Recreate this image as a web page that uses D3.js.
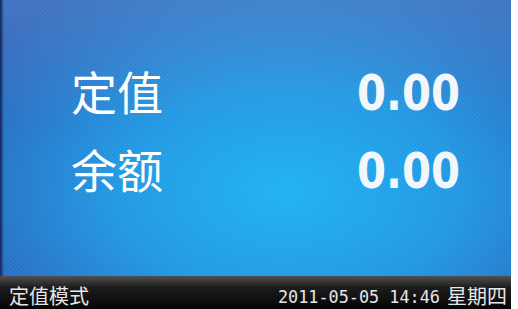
<!DOCTYPE html>
<html>
<head>
<meta charset="utf-8">
<script src="https://cdn.jsdelivr.net/npm/d3@7"></script>
<style>
  html, body { margin: 0; padding: 0; background: #fff; overflow: hidden; }
</style>
</head>
<body>
<svg id="screen"></svg>
<script>
const width = 518;
const height = 309;

// data
const labels = ["定值", "余额"];
const values = [0.00, 0.00];
const modeText = "定值模式";
const dateText = "2011-05-05 14:46";
const weekText = "星期四";

let svg = d3.select('#screen')
        .attr('width', width)
        .attr('height', height);

let defs = svg.append("defs");

// blue glow of the panel
let glow = defs.append("radialGradient")
        .attr("id", "glow")
        .attr("cx", 0.56).attr("cy", 0.62)
        .attr("r", 0.75)
        .attr("fx", 0.56).attr("fy", 0.62);
glow.append("stop").attr("offset", 0).attr("stop-color", "#1fb2f4");
glow.append("stop").attr("offset", 0.45).attr("stop-color", "#2198e3");
glow.append("stop").attr("offset", 1).attr("stop-color", "#2a5ab4");

// top sheen
let sheen = defs.append("linearGradient")
        .attr("id", "sheen")
        .attr("x1", 0).attr("y1", 0).attr("x2", 0).attr("y2", 1);
sheen.append("stop").attr("offset", 0).attr("stop-color", "#6aa6dc").attr("stop-opacity", 0.35);
sheen.append("stop").attr("offset", 0.45).attr("stop-color", "#6aa6dc").attr("stop-opacity", 0);

// left dark edge
let edge = defs.append("linearGradient")
        .attr("id", "edge")
        .attr("x1", 0).attr("y1", 0).attr("x2", 1).attr("y2", 0);
edge.append("stop").attr("offset", 0).attr("stop-color", "#0e2456").attr("stop-opacity", 1);
edge.append("stop").attr("offset", 1).attr("stop-color", "#0e2456").attr("stop-opacity", 0);

// bottom status bar
let bar = defs.append("linearGradient")
        .attr("id", "bar")
        .attr("x1", 0).attr("y1", 0).attr("x2", 0).attr("y2", 1);
bar.append("stop").attr("offset", 0).attr("stop-color", "#505050");
bar.append("stop").attr("offset", 0.35).attr("stop-color", "#1c1c1c");
bar.append("stop").attr("offset", 1).attr("stop-color", "#050505");

// fine checker texture
let pat = defs.append("pattern")
        .attr("id", "mesh")
        .attr("width", 4).attr("height", 4)
        .attr("patternUnits", "userSpaceOnUse");
pat.append("rect").attr("x", 0).attr("y", 0).attr("width", 2).attr("height", 2).attr("fill", "#ffffff");
pat.append("rect").attr("x", 2).attr("y", 2).attr("width", 2).attr("height", 2).attr("fill", "#ffffff");

const panelW = 511;
const barTop = 276;

svg.append("rect")
        .attr("x", 0).attr("y", 0)
        .attr("width", panelW).attr("height", height)
        .attr("fill", "url(#glow)");
svg.append("rect")
        .attr("x", 0).attr("y", 0)
        .attr("width", panelW).attr("height", barTop)
        .attr("fill", "url(#sheen)");
svg.append("rect")
        .attr("x", 0).attr("y", 0)
        .attr("width", panelW).attr("height", barTop)
        .attr("fill", "url(#mesh)")
        .attr("opacity", 0.04);
svg.append("rect")
        .attr("x", 0).attr("y", 0)
        .attr("width", 4).attr("height", height)
        .attr("fill", "url(#edge)");

// rows
let rowScale = d3.scaleBand()
        .domain(labels)
        .range([52, 208])
        .paddingInner(0);

let rows = svg.selectAll(".row")
        .data(labels.map((l, i) => ({label: l, value: values[i]})))
        .enter().append("g")
        .attr("class", "row")
        .attr("transform", d => "translate(0," + (rowScale(d.label) + rowScale.bandwidth() / 2) + ")");

rows.append("text")
        .attr("x", 71)
        .attr("y", 19)
        .attr("font-family", "'Noto Sans CJK SC', sans-serif")
        .attr("font-size", 46)
        .attr("fill", "#ffffff")
        .text(d => d.label);

rows.append("text")
        .attr("x", 357)
        .attr("y", 19)
        .attr("font-family", "'DejaVu Sans', sans-serif")
        .attr("font-weight", "bold")
        .attr("font-size", 50)
        .attr("textLength", 103)
        .attr("lengthAdjust", "spacingAndGlyphs")
        .attr("fill", "#f2f7fc")
        .text(d => d3.format(".2f")(d.value));

// status bar
svg.append("rect")
        .attr("x", 0).attr("y", barTop)
        .attr("width", panelW).attr("height", height - barTop)
        .attr("fill", "url(#bar)");

svg.append("text")
        .attr("x", 9).attr("y", 304)
        .attr("font-family", "'Noto Sans CJK SC', sans-serif")
        .attr("font-size", 20)
        .attr("fill", "#e6e6e6")
        .text(modeText);

svg.append("text")
        .attr("x", 278).attr("y", 303)
        .attr("font-family", "'DejaVu Sans Mono', monospace")
        .attr("font-size", 17)
        .attr("textLength", 162)
        .attr("lengthAdjust", "spacingAndGlyphs")
        .attr("fill", "#e6e6e6")
        .text(dateText);

svg.append("text")
        .attr("x", 447).attr("y", 304)
        .attr("font-family", "'Noto Sans CJK SC', sans-serif")
        .attr("font-size", 20)
        .attr("fill", "#e6e6e6")
        .text(weekText);
</script>
</body>
</html>
